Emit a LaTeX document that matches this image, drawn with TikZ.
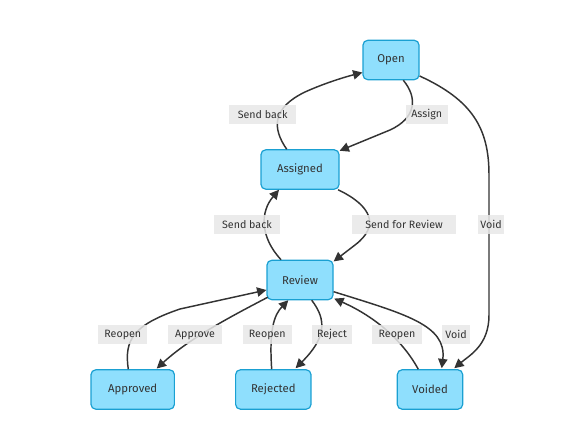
\documentclass[tikz,border=0pt]{standalone}
\usepackage{fontspec}
\setmainfont{Fira Sans}
\usetikzlibrary{arrows.meta,calc}
\definecolor{nodefill}{HTML}{8FDFFD}
\definecolor{nodeline}{HTML}{1AA0D2}
\definecolor{ink}{HTML}{333333}
\definecolor{lblfill}{HTML}{E8E8E8}
\begin{document}
\begin{tikzpicture}[x=0.75pt,y=-0.75pt,
  state/.style={draw=nodeline,fill=nodefill,line width=0.9pt,rounded corners=3.5pt,
    minimum height=29.5pt,text=ink,font=\fontsize{8.5}{10}\selectfont,inner sep=0pt},
  lbl/.style={fill=lblfill,fill opacity=0.85,text opacity=1,text=ink,
    font=\fontsize{8}{9.5}\selectfont,inner xsep=0pt,inner ysep=0pt,minimum height=14.5pt},
  edge/.style={draw=ink,line width=1.1pt,-{Triangle[length=7pt,width=7pt]}}]
\useasboundingbox (0,0) rectangle (567,438);
% states
\node[state,minimum width=42pt] (open) at (391,60) {Open};
\node[state,minimum width=58.5pt] (asg) at (300,169.5) {Assigned};
\node[state,minimum width=49.5pt] (rev) at (300,280) {Review};
\node[state,minimum width=62.5pt] (apr) at (132.7,389.5) {Approved};
\node[state,minimum width=56.5pt] (rej) at (273.3,389.5) {Rejected};
\node[state,minimum width=49pt] (voi) at (430,389.5) {Voided};
% edges
\draw[edge] ($(asg.north)+(-13.3,0)$) .. controls (272,128) and (272,108) .. (305,92)
  .. controls (325,83) and (345,77) .. ($(open.west)+(0,12.5)$);
\draw[edge] ($(open.south)+(12.3,0)$) .. controls (418,98) and (416,118) .. (390,130)
  -- ($(asg.north east)+(0,1.5)$);
\draw[edge] ($(open.east)+(0,16)$) .. controls (472,100) and (489,128) .. (489,175)
  -- (489,315) .. controls (489,345) and (470,355) .. ($(voi.north east)+(-9,-1)$);
\draw[edge] ($(rev.north)+(-19,0)$) .. controls (260,237) and (260,212) .. ($(asg.south)+(-21,0)$);
\draw[edge] ($(asg.south east)+(-1.5,0)$) .. controls (372,206) and (380,226) .. (355,245)
  -- ($(rev.north east)+(0,1.7)$);
\draw[edge] ($(rev.south west)+(1.3,-3)$) .. controls (230,317) and (190,338) .. ($(apr.north east)+(-18.3,-0.7)$);
\draw[edge] ($(apr.north)+(-4.4,0)$) .. controls (124,340) and (133,325) .. (180,309)
  -- ($(rev.west)+(0,10)$);
\draw[edge] ($(rej.north)+(-1.6,0)$) .. controls (269,330) and (274,315) .. ($(rev.south)+(-11.7,0)$);
\draw[edge] ($(rev.south)+(11.7,0)$) .. controls (327,320) and (326,338) .. ($(rej.north east)+(-16,-1)$);
\draw[edge] ($(voi.north)+(-11.7,0)$) .. controls (404,343) and (378,318) .. ($(rev.south east)+(0.6,-1.7)$);
\draw[edge] ($(rev.east)+(0,11.7)$) .. controls (405,314) and (447,325) .. ($(voi.north)+(11.7,-1)$);
% labels
\node[lbl,minimum width=50pt] (l1) at (262.7,114.7) {Send back};
\node[lbl,minimum width=31.5pt] (l2) at (426.7,114.7) {Assign};
\node[lbl,minimum width=20pt] (l3) at (491,224.5) {Void};
\node[lbl,minimum width=50pt] (l4) at (247,224.5) {Send back};
\node[lbl,minimum width=78pt] (l5) at (404,224.5) {Send for Review};
\node[lbl,minimum width=37pt] (l6) at (122.8,334.7) {Reopen};
\node[lbl,minimum width=41pt] (l7) at (195,334.7) {Approve};
\node[lbl,minimum width=37pt] (l8) at (267.3,334.7) {Reopen};
\node[lbl,minimum width=29.5pt] (l9) at (332,334.7) {Reject};
\node[lbl,minimum width=37pt] (l10) at (397,334.7) {Reopen};
\node[lbl,minimum width=21pt] (l11) at (456,334.7) {Void};
\end{tikzpicture}
\end{document}
